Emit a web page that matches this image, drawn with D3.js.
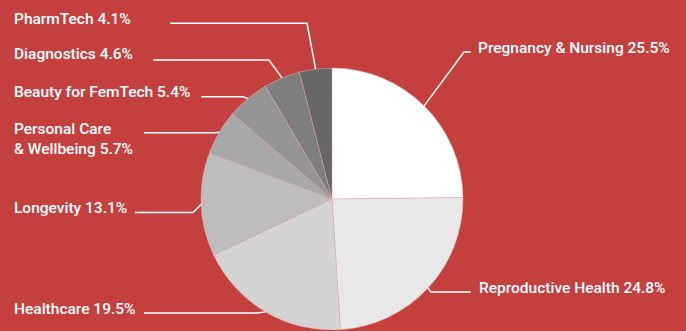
<!DOCTYPE html>
<html>
<head>
<meta charset="utf-8">
<script src="https://cdn.jsdelivr.net/npm/d3@7"></script>
<style>
  html, body { margin: 0; padding: 0; background: #c4403f; }
  svg { display: block; }
  .lbl { font-family: Roboto, sans-serif; font-size: 15.5px; font-weight: 500; fill: #fff; }
</style>
</head>
<body>
<div id="chart"></div>
<script>
// data
var categories = ["Pregnancy & Nursing", "Reproductive Health", "Healthcare", "Longevity",
                  "Personal Care\n& Wellbeing", "Beauty for FemTech", "Diagnostics", "PharmTech"];
var shares = [25.5, 24.8, 19.5, 13.1, 5.7, 5.4, 4.6, 4.1];
var sliceColors = ["#ffffff", "#e8e8e8", "#d4d4d4", "#bdbdbd", "#a8a8a8", "#959595", "#7e7e7e", "#666666"];

// label layout: text x / baseline, leader y, line end x, elbow x
var labelLayout = [
  {tx: 478, ty: 53,  ly: 52,  lx: 471, ex: 464, anchor: "start"},
  {tx: 479, ty: 293, ly: 292, lx: 471, ex: 431, anchor: "start"},
  {tx: 14,  ty: 314, ly: 313, lx: 144, ex: 257, anchor: "start"},
  {tx: 14,  ty: 213, ly: 212.5, lx: 135, ex: 193, anchor: "start"},
  {tx: 14,  ty: 134, ly: 132.7, lx: 144, ex: 215, anchor: "start"},
  {tx: 14,  ty: 97,  ly: 96.7, lx: 201, ex: 243, anchor: "start"},
  {tx: 14,  ty: 59,  ly: 60,  lx: 153, ex: 269, anchor: "start"},
  {tx: 14,  ty: 24,  ly: 23.3, lx: 170, ex: 307, anchor: "start"}
];

var width = 686, height = 331;
var cx = 332, cy = 199, radius = 131;

var svg = d3.select("#chart").append("svg")
    .attr("width", width)
    .attr("height", height);

var g = svg.append("g")
    .attr("transform", "translate(" + cx + "," + cy + ")");

var pie = d3.pie().sort(null).value(function(d) { return d; });
var arcs = pie(shares);

var arc = d3.arc().innerRadius(0).outerRadius(radius);
var edgeArc = d3.arc().innerRadius(radius).outerRadius(radius);

// slices
g.selectAll("path.slice")
    .data(arcs)
    .enter().append("path")
    .attr("class", "slice")
    .attr("d", arc)
    .attr("fill", function(d, i) { return sliceColors[i]; })
    .attr("stroke", "#e6b0b0")
    .attr("stroke-width", 0.5);

// leader lines
svg.selectAll("polyline.leader")
    .data(arcs)
    .enter().append("polyline")
    .attr("class", "leader")
    .attr("fill", "none")
    .attr("stroke", "#fff")
    .attr("stroke-width", 1.5)
    .attr("points", function(d, i) {
      var p = edgeArc.centroid(d);
      var L = labelLayout[i];
      return [[cx + p[0], cy + p[1]], [L.ex, L.ly], [L.lx, L.ly]].join(" ");
    });

// labels
svg.selectAll("text.lbl")
    .data(arcs)
    .enter().append("text")
    .attr("class", "lbl")
    .attr("x", function(d, i) { return labelLayout[i].tx; })
    .attr("y", function(d, i) { return labelLayout[i].ty; })
    .attr("text-anchor", function(d, i) { return labelLayout[i].anchor; })
    .each(function(d, i) {
      var lines = (categories[i] + " " + shares[i].toFixed(1) + "%").split("\n");
      var t = d3.select(this);
      lines.forEach(function(s, k) {
        t.append("tspan")
          .attr("x", labelLayout[i].tx)
          .attr("dy", k === 0 ? 0 : 20)
          .text(s);
      });
    });
</script>
</body>
</html>
